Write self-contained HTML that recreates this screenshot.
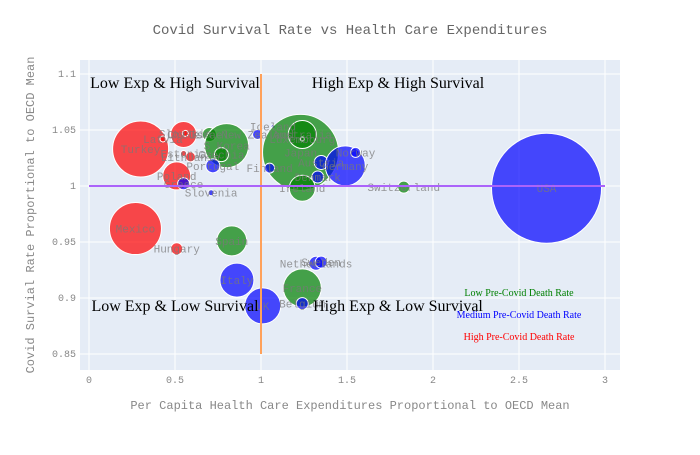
<!DOCTYPE html>
<html><head><meta charset="utf-8"><style>
body{margin:0;background:#fff;}
svg text{font-family:"Liberation Mono",monospace;}
</style></head><body>
<svg id="chart" width="700" height="450">
<rect x="0" y="0" width="700" height="450" fill="#fff"/>
<rect x="80" y="60" width="540" height="310" fill="#e5ecf6"/>
<g id="grid"></g>
<g id="marks"></g>
<text x="350" y="34" text-anchor="middle" font-size="14" fill="#666">Covid Survival Rate vs Health Care Expenditures</text>
<text x="350" y="409" text-anchor="middle" font-size="12" fill="#888">Per Capita Health Care Expenditures Proportional to OECD Mean</text>
<text transform="translate(34,215) rotate(-90)" text-anchor="middle" font-size="12" fill="#888">Covid Survial Rate Proportional to OECD Mean</text>
</svg>
<script>
const names=["Turkey","Latvia","Chile","Slovakia","Estonia","Lithuania","Israel","S Korea","Czechia","Portugal","Poland","Greece","Slovenia","New Zealand","Iceland","Japan","Australia","Luxembourg","Finland","Austria","Germany","Norway","Denmark","Ireland","Switzerland","USA","Mexico","Hungary","Spain","Italy","UK","France","Belgium","Netherlands","Sweden"];
const xVals=[0.30,0.43,0.55,0.56,0.55,0.59,0.70,0.80,0.77,0.72,0.51,0.55,0.71,0.98,1.07,1.23,1.24,1.24,1.05,1.35,1.49,1.55,1.33,1.24,1.83,2.66,0.27,0.51,0.83,0.86,1.01,1.24,1.24,1.32,1.35];
const yVals=[1.033,1.042,1.046,1.047,1.029,1.026,1.046,1.036,1.028,1.018,1.009,1.002,0.994,1.046,1.053,1.030,1.046,1.042,1.016,1.021,1.018,1.030,1.008,0.998,0.999,0.998,0.962,0.944,0.951,0.916,0.893,0.909,0.895,0.931,0.932];
const sizes=[28,3,13,3,3,5,7,22,7,7,14,6,3,5,2,38,14,2,5,7,20,5,6,13,6,55,26,6,15,17,18,19,6,7,6];
const groups=["high","high","high","high","high","high","low","low","low","med","high","med","med","med","med","low","low","low","med","med","med","med","med","low","low","med","high","high","low","med","med","low","med","med","med"];
const xTicks=[0,0.5,1,1.5,2,2.5,3];
const yTicks=[0.85,0.9,0.95,1,1.05,1.1];
const colors={low:"rgba(0,128,0,0.7)",med:"rgba(0,0,255,0.7)",high:"rgba(255,0,0,0.7)"};
const X=v=>89+v*172, Y=v=>186-(v-1)*1120;
const NS="http://www.w3.org/2000/svg";
function mk(tag,attrs,parent,text){const e=document.createElementNS(NS,tag);for(const k in attrs)e.setAttribute(k,attrs[k]);if(text!==undefined)e.textContent=text;parent.appendChild(e);return e;}
const grid=document.getElementById('grid'),marks=document.getElementById('marks'),svg=document.getElementById('chart');
xTicks.forEach(t=>{
 const l=mk('line',{x1:X(t),x2:X(t),y1:60,y2:370,stroke:'#fff','stroke-width':1},grid);
 
 
 const tx=mk('text',{x:X(t),y:383,'text-anchor':'middle','font-size':10,fill:'#888'},grid,String(t));
 
 
});
yTicks.forEach(t=>{
 const l=mk('line',{x1:80,x2:620,y1:Y(t),y2:Y(t),stroke:'#fff','stroke-width':1},grid);
 
 
 const tx=mk('text',{x:76,y:Y(t)+3,'text-anchor':'end','font-size':10,fill:'#888'},grid,String(t));
 
 
});
names.forEach((n,i)=>{
 const c=mk('circle',{cx:X(xVals[i]),cy:Y(yVals[i]),r:sizes[i],fill:colors[groups[i]],stroke:'#fff','stroke-width':1},marks);
 
 
});
names.forEach((n,i)=>{
 const t=mk('text',{x:X(xVals[i]),y:Y(yVals[i])+4,'text-anchor':'middle','font-size':11,fill:'rgba(120,120,120,0.75)'},marks,n);
 
 
});
const vl=mk('line',{x1:X(1),x2:X(1),y1:Y(1.1),y2:Y(0.85),stroke:'#ffa15a','stroke-width':2},marks);


const hl=mk('line',{x1:X(0),x2:X(3),y1:Y(1),y2:Y(1),stroke:'#ab63fa','stroke-width':2},marks);


const ann=[["Low Exp & High Survival",175,88,"quadrant-top-left"],["High Exp & High Survival",398,88,"quadrant-top-right"],["Low Exp & Low Survival",175,311,"quadrant-bottom-left"],["High Exp & Low Survival",398,311,"quadrant-bottom-right"]];
ann.forEach(a=>{
 const t=mk('text',{x:a[1],y:a[2],'text-anchor':'middle','font-size':16,fill:'#000',style:'font-family:"Liberation Serif",serif'},svg,a[0]);
 
 
});
const leg=[["Low Pre-Covid Death Rate",519,296,"green","legend-low"],["Medium Pre-Covid Death Rate",519,318,"blue","legend-medium"],["High Pre-Covid Death Rate",519,340,"red","legend-high"]];
leg.forEach(a=>{
 const t=mk('text',{x:a[1],y:a[2],'text-anchor':'middle','font-size':10,fill:a[3],style:'font-family:"Liberation Serif",serif'},svg,a[0]);
 
 
});
</script>
</body></html>
